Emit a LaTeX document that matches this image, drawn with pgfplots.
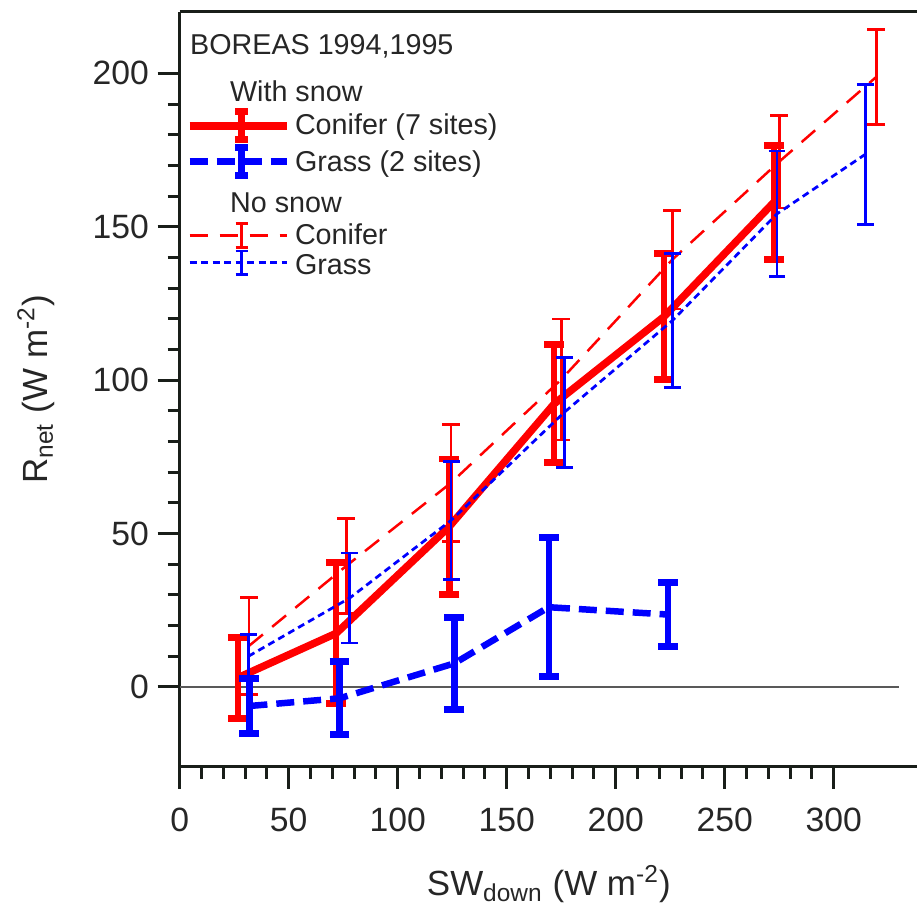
\documentclass[border=0pt]{standalone}
\usepackage{fontspec}
\setmainfont{Liberation Sans}
\usepackage{pgfplots}
\usepackage{pgfplotstable}
\pgfplotsset{compat=1.18}
\definecolor{cred}{RGB}{255,0,0}
\definecolor{cblue}{RGB}{0,0,255}
\definecolor{axcol}{RGB}{25,30,25}

% With snow, conifer (7 sites)
\pgfplotstableread{
x y e
26.7 3 13.2
71.8 17.5 23
123.7 52.3 22
171.8 92.3 19.2
222.2 120.7 20.5
272.6 158 18.6
}\conifersnow
% With snow, grass (2 sites)
\pgfplotstableread{
x y e
32 -6.2 9
73.3 -3.7 11.9
126 7.7 15
169.3 26 22.7
224 23.6 10.4
}\grasssnow
% No snow, conifer
\pgfplotstableread{
x y e
31.8 13.4 15.8
76.5 39.5 15.5
124.4 66.5 19
175 100.2 19.7
226 139.3 16.1
275 171.2 15.1
319.5 198.8 15.5
}\conifernosnow
% No snow, grass
\pgfplotstableread{
x y e
31.5 10 7.2
78 29 14.7
124.5 54.3 19.3
176.4 89.5 18
226 119.4 21.9
274 154.2 20.5
314.5 173.6 22.8
}\grassnosnow

\newcommand{\legfont}{\fontsize{11.5}{13}\selectfont}

\begin{document}
\begin{tikzpicture}
\begin{axis}[
  name=ax, scale only axis, width=295.2pt, height=302.4pt,
  xmin=0, xmax=338, ymin=-26, ymax=220,
  axis x line*=bottom, axis y line*=left,
  axis line style={line width=1.2pt, axcol},
  xtick={0,50,...,300}, ytick={0,50,...,200},
  minor x tick num=4, minor y tick num=4,
  tick align=outside,
  major tick length=8.8pt, minor tick length=4.8pt,
  every tick/.append style={line width=1.2pt, axcol},
  tick label style={font=\fontsize{13.5}{16}\selectfont, text=black!85},
  /pgf/number format/assume math mode=true,
  xticklabel style={yshift=-4pt},
  xlabel={SW\textsubscript{down} (W m\textsuperscript{-2})},
  ylabel={R\textsubscript{net} (W m\textsuperscript{-2})},
  every axis x label/.style={at={(rel axis cs:0.501,-0.156)}, anchor=center, font=\fontsize{14}{17}\selectfont, text=black!85},
  every axis y label/.style={at={(rel axis cs:-0.195,0.5)}, anchor=center, rotate=90, font=\fontsize{14}{17}\selectfont, text=black!85},
]
\addplot[black!65, line width=0.8pt, forget plot] coordinates {(0,0) (330,0)};

\addplot[cred, line width=1pt, dash pattern=on 7.2pt off 4.8pt, mark=none,
  error bars/.cd, y dir=both, y explicit,
  error bar style={line width=1.1pt, solid},
  error mark options={rotate=90, line width=1.1pt, mark size=3.6pt, solid}]
  table[x=x, y=y, y error=e] {\conifernosnow};

\addplot[cred, line width=3pt, mark=none,
  error bars/.cd, y dir=both, y explicit,
  error bar style={line width=2.6pt, solid},
  error mark options={rotate=90, line width=2.8pt, mark size=4pt, solid}]
  table[x=x, y=y, y error=e] {\conifersnow};

\addplot[cblue, line width=2.6pt, dash pattern=on 7.2pt off 3.6pt, mark=none,
  error bars/.cd, y dir=both, y explicit,
  error bar style={line width=2.6pt, solid},
  error mark options={rotate=90, line width=2.8pt, mark size=4pt, solid}]
  table[x=x, y=y, y error=e] {\grasssnow};

\addplot[cblue, line width=1.1pt, dash pattern=on 2.8pt off 1.8pt, mark=none,
  error bars/.cd, y dir=both, y explicit,
  error bar style={line width=1.1pt, solid},
  error mark options={rotate=90, line width=1.1pt, mark size=3.4pt, solid}]
  table[x=x, y=y, y error=e] {\grassnosnow};
\end{axis}

\draw[axcol, line width=1.2pt] (ax.north west) -- (ax.north east);
\draw[axcol, line width=1.2pt] (ax.south west) -- ++(0,-4.8pt);

\begin{scope}[shift={(ax.north west)}, x=0.4pt, y=-0.4pt,
  every node/.style={anchor=base west, inner sep=0pt, font=\legfont, text=black!85}]
  \node at (10,43) {BOREAS 1994,1995};
  \node at (50,89.7) {With snow};
  % Conifer (7 sites)
  \draw[cred, line width=3pt] (10,114) -- (107,114);
  \draw[cred, line width=2.6pt] (62,100) -- (62,128);
  \draw[cred, line width=2.8pt] (55.5,100) -- (68.5,100) (55.5,128) -- (68.5,128);
  \node at (115,123) {Conifer (7 sites)};
  % Grass (2 sites)
  \draw[cblue, line width=2.6pt, dash pattern=on 7.2pt off 3.6pt] (10,149.7) -- (107,149.7);
  \draw[cblue, line width=2.6pt] (62,135.7) -- (62,163.7);
  \draw[cblue, line width=2.8pt] (55.5,135.7) -- (68.5,135.7) (55.5,163.7) -- (68.5,163.7);
  \node at (115,159.7) {Grass (2 sites)};
  \node at (50,201.3) {No snow};
  % Conifer no snow
  \draw[cred, line width=1pt, dash pattern=on 7.2pt off 4.8pt] (10,224) -- (107,224);
  \draw[cred, line width=1.1pt] (62,212) -- (62,236);
  \draw[cred, line width=1.1pt] (56,212) -- (68,212) (56,236) -- (68,236);
  \node at (115,233) {Conifer};
  % Grass no snow
  \draw[cblue, line width=1.1pt, dash pattern=on 2.8pt off 1.8pt] (10,251.3) -- (107,251.3);
  \draw[cblue, line width=1.1pt] (62,239.3) -- (62,263.3);
  \draw[cblue, line width=1.1pt] (56,239.3) -- (68,239.3) (56,263.3) -- (68,263.3);
  \node at (115,263) {Grass};
\end{scope}

\path ([shift={(-72pt,-58pt)}]ax.south west) rectangle ([shift={(0pt,4.8pt)}]ax.north east);
\end{tikzpicture}
\end{document}
